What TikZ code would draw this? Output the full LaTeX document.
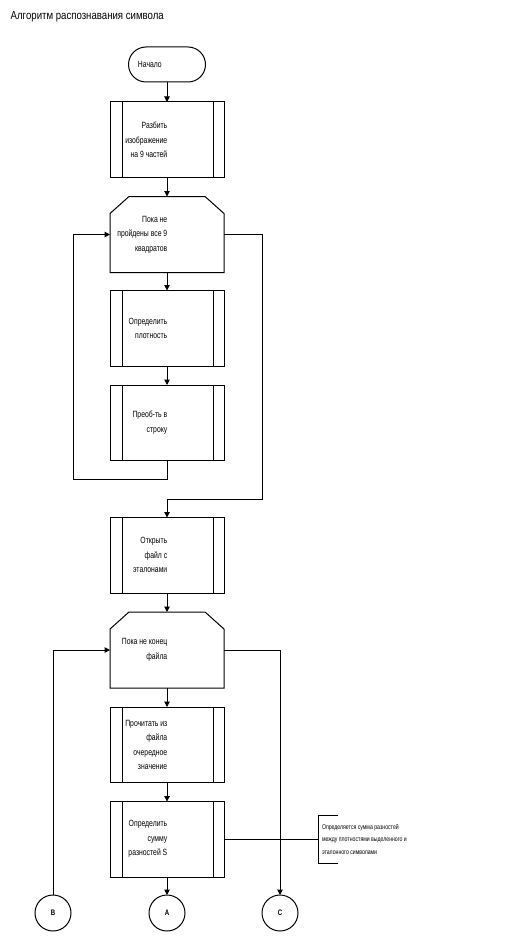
\documentclass[tikz,border=0pt]{standalone}
\usepackage{fontspec}
\usepackage{tikz}
\usetikzlibrary{
  arrows.meta, positioning, calc
}
\newfontfamily\narrowsf{Liberation Sans}[FakeStretch=0.76]
\newfontfamily\titlesf{Liberation Sans}[FakeStretch=0.83]
\tikzset{
  term/.style={
    draw, rounded corners=17.5pt,
    minimum width=77pt, minimum height=35pt,
    line width=1pt, outer sep=0pt
  },
  proc/.style={
    draw, minimum width=114pt, minimum height=75.5pt,
    line width=1pt, outer sep=0pt
  },
  loophead/.style={
    minimum width=114pt, minimum height=76pt,
    inner sep=0pt, outer sep=0pt
  },
  conn/.style={
    draw, circle, minimum size=36pt, inner sep=0pt, outer sep=0pt,
    line width=1pt, font=\narrowsf\fontsize{8}{9}\selectfont\bfseries
  },
  lbl/.style={
    align=right, inner sep=0pt,
    font=\narrowsf\fontsize{9}{14.5}\selectfont
  },
  note/.style={
    align=left, minimum height=48pt, inner xsep=4pt, outer sep=0pt,
    font=\narrowsf\fontsize{6.8}{12.5}\selectfont
  },
  flowarr/.style={
    -{Triangle[length=5.5pt,width=5.5pt]},
    line width=1pt
  },
  plain/.style={line width=1pt}
}
% side bars of a predefined-process box
\newcommand{\sidebars}[1]{%
  \draw[plain] ([xshift=12pt]#1.north west) -- ([xshift=12pt]#1.south west);
  \draw[plain] ([xshift=-11pt]#1.north east) -- ([xshift=-11pt]#1.south east);
}
% outline of a loop-limit box (top corners cut)
\newcommand{\loopframe}[1]{%
  \draw[plain] (#1.south west) -- ([yshift=-17pt]#1.north west)
    -- ([xshift=19pt]#1.north west) -- ([xshift=-19pt]#1.north east)
    -- ([yshift=-17pt]#1.north east) -- (#1.south east) -- cycle;
}

\begin{document}
\begin{tikzpicture}[
          x=1pt, y=1pt,
          node distance = 19pt and 20pt
      ]
        \useasboundingbox (0,0) rectangle (529,-936);

        %% ── Title ────────────────────────────────────────────────────────
        \node[anchor=base west, inner sep=0pt,
              font=\titlesf\fontsize{11.6}{13}\selectfont] (title) at (10.5,-19.3)
              {Алгоритм распознавания символа};

        %% ── First loop: split and scan the 9 squares ────────────────────
        \node[term] (start) at (167,-64.5) {};
        \node[lbl, left=5pt of start.center] (t0) {Начало};

        \node[proc, below=20pt of start] (split) {};
        \sidebars{split}
        \node[lbl, left=-0.5pt of split.center] (t1) {Разбить\\изображение\\на 9 частей};

        \node[loophead, below=19pt of split] (loopsq) {};
        \loopframe{loopsq}
        \node[lbl, left=-0.5pt of loopsq.center] (t2) {Пока не\\пройдены все 9\\квадратов};

        \node[proc, below=18pt of loopsq] (dens) {};
        \sidebars{dens}
        \node[lbl, left=-0.5pt of dens.center] (t3) {Определить\\плотность};

        \node[proc, below=19pt of dens] (tostr) {};
        \sidebars{tostr}
        \node[lbl, left=-0.5pt of tostr.center] (t4) {Преоб-ть в\\строку};

        %% ── Second loop: compare with the reference file ────────────────
        \node[proc, below=57pt of tostr] (open) {};
        \sidebars{open}
        \node[lbl, left=-0.5pt of open.center] (t5) {Открыть\\файл с\\эталонами};

        \node[loophead, below=19pt of open] (loopfile) {};
        \loopframe{loopfile}
        \node[lbl, left=-0.5pt of loopfile.center] (t6) {Пока не конец\\файла};

        \node[proc, below=19pt of loopfile] (readval) {};
        \sidebars{readval}
        \node[lbl, left=-0.5pt of readval.center] (t7) {Прочитать из\\файла\\очередное\\значение};

        \node[proc, below=19pt of readval] (diffsum) {};
        \sidebars{diffsum}
        \node[lbl, left=-0.5pt of diffsum.center] (t8) {Определить\\сумму\\разностей S};

        %% ── Connectors A, B, C and the comment ──────────────────────────
        \node[conn, below=18pt of diffsum] (cA) {A};
        \node[conn, left=78pt of cA] (cB) {B};
        \node[conn, right=77pt of cA] (cC) {C};

        \node[note, right=94pt of diffsum] (remark)
          {Определяется сумма разностей\\между плотностями выделенного и\\эталонного символами};

        %% ── Arrows ───────────────────────────────────────────────────────
        \draw[flowarr] (start) -- (split);
        \draw[flowarr] (split) -- (loopsq);
        \draw[flowarr] (loopsq) -- (dens);
        \draw[flowarr] (dens) -- (tostr);
        \draw[flowarr] (tostr.south) -- ++(0,-19pt)
                       -| ([xshift=-37pt]loopsq.west) -- (loopsq.west);
        \draw[flowarr] (loopsq.east) -- ++(38pt,0)
                       |- ([yshift=18pt]open.north) -- (open.north);
        \draw[flowarr] (open) -- (loopfile);
        \draw[flowarr] (loopfile) -- (readval);
        \draw[flowarr] (readval) -- (diffsum);
        \draw[flowarr] (diffsum) -- (cA);
        \draw[flowarr] (cB.north) |- (loopfile.west);
        \draw[flowarr] (loopfile.east) -| (cC.north);

        % comment bracket
        \draw[plain] (diffsum.east) -- (remark.west);
        \draw[plain] ([xshift=20pt]remark.north west) -- (remark.north west)
                     -- (remark.south west) -- ([xshift=20pt]remark.south west);
      \end{tikzpicture}
\end{document}
